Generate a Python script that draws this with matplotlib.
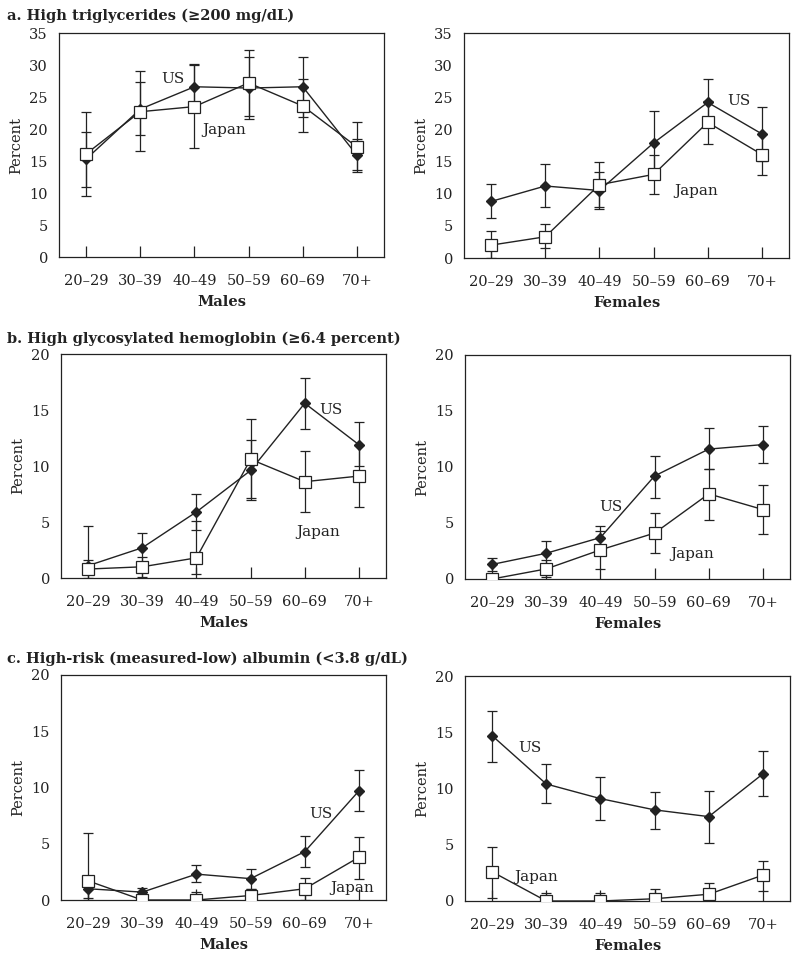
import numpy as np
import matplotlib
matplotlib.use('Agg')
from matplotlib import pyplot as plt

plt.rcParams['font.family'] = ['DejaVu Serif']
plt.rcParams['axes.unicode_minus'] = False

# ---- data ----
ages = ['20–29', '30–39', '40–49', '50–59', '60–69', '70+']

# a. triglycerides, males
tg_m_us = [15.3, 23.1, 26.6, 26.4, 26.6, 15.9]
tg_m_us_lo = [11.0, 19.0, 23.3, 21.5, 21.9, 13.6]
tg_m_us_hi = [19.6, 27.3, 30.0, 31.3, 31.3, 18.5]
tg_m_jp = [16.1, 22.7, 23.5, 27.2, 23.6, 17.2]
tg_m_jp_lo = [9.5, 16.5, 17.1, 22.0, 19.5, 13.3]
tg_m_jp_hi = [22.7, 29.0, 30.2, 32.4, 27.8, 21.1]
# a. triglycerides, females
tg_f_us = [8.8, 11.2, 10.5, 17.9, 24.2, 19.3]
tg_f_us_lo = [6.2, 7.9, 7.7, 13.0, 20.5, 15.1]
tg_f_us_hi = [11.5, 14.6, 13.4, 22.8, 27.9, 23.5]
tg_f_jp = [2.0, 3.3, 11.4, 13.0, 21.1, 16.1]
tg_f_jp_lo = [0.0, 1.5, 8.0, 10.0, 17.7, 12.9]
tg_f_jp_hi = [4.2, 5.3, 14.9, 16.1, 24.5, 19.3]

# b. glycosylated hemoglobin, males
hb_m_us = [1.1, 2.7, 5.9, 9.6, 15.6, 11.9]
hb_m_us_lo = [0.6, 1.4, 4.3, 7.0, 13.3, 10.0]
hb_m_us_hi = [1.6, 4.0, 7.5, 12.3, 17.9, 13.9]
hb_m_jp = [0.8, 1.0, 1.8, 10.6, 8.6, 9.1]
hb_m_jp_lo = [0.0, 0.1, 0.4, 7.1, 5.9, 6.3]
hb_m_jp_hi = [4.6, 1.9, 5.1, 14.2, 11.3, 11.9]
# b. glycosylated hemoglobin, females
hb_f_us = [1.3, 2.3, 3.7, 9.2, 11.6, 12.0]
hb_f_us_lo = [0.7, 1.2, 2.7, 7.2, 9.8, 10.4]
hb_f_us_hi = [1.9, 3.4, 4.7, 11.0, 13.5, 13.7]
hb_f_jp = [0.0, 0.9, 2.6, 4.1, 7.6, 6.2]
hb_f_jp_lo = [0.0, 0.2, 0.9, 2.3, 5.3, 4.0]
hb_f_jp_hi = [0.0, 1.7, 4.3, 5.9, 9.8, 8.4]

# c. albumin, males
al_m_us = [1.0, 0.7, 2.3, 1.9, 4.3, 9.7]
al_m_us_lo = [0.2, 0.2, 1.6, 1.0, 2.9, 7.9]
al_m_us_hi = [1.8, 1.1, 3.1, 2.8, 5.7, 11.6]
al_m_jp = [1.7, 0.0, 0.0, 0.4, 1.0, 3.8]
al_m_jp_lo = [0.0, 0.0, 0.0, 0.0, 0.0, 1.9]
al_m_jp_hi = [6.0, 0.0, 0.7, 1.0, 2.0, 5.6]
# c. albumin, females
al_f_us = [14.7, 10.4, 9.1, 8.1, 7.5, 11.3]
al_f_us_lo = [12.4, 8.7, 7.2, 6.4, 5.2, 9.3]
al_f_us_hi = [16.9, 12.2, 11.0, 9.7, 9.8, 13.3]
al_f_jp = [2.6, 0.0, 0.0, 0.2, 0.6, 2.3]
al_f_jp_lo = [0.3, 0.0, 0.0, 0.0, 0.0, 0.9]
al_f_jp_hi = [4.8, 0.7, 0.7, 1.1, 1.6, 3.6]

titles = ['a. High triglycerides (≥200 mg/dL)',
          'b. High glycosylated hemoglobin (≥6.4 percent)',
          'c. High-risk (measured-low) albumin (<3.8 g/dL)']

panels = [
    # axes box in px (left, top, right, bottom), ymax, xlabel, series, US / Japan label spots
    ((59, 33, 384, 257), 35, 'Males',
     (tg_m_us, tg_m_us_lo, tg_m_us_hi, tg_m_jp, tg_m_jp_lo, tg_m_jp_hi),
     (1.61, 27.8), (2.54, 19.8)),
    ((464, 33, 789, 258), 35, 'Females',
     (tg_f_us, tg_f_us_lo, tg_f_us_hi, tg_f_jp, tg_f_jp_lo, tg_f_jp_hi),
     (4.57, 24.5), (3.78, 10.4)),
    ((61, 354, 386, 578), 20, 'Males',
     (hb_m_us, hb_m_us_lo, hb_m_us_hi, hb_m_jp, hb_m_jp_lo, hb_m_jp_hi),
     (4.48, 15.0), (4.24, 4.1)),
    ((465, 355, 790, 579), 20, 'Females',
     (hb_f_us, hb_f_us_lo, hb_f_us_hi, hb_f_jp, hb_f_jp_lo, hb_f_jp_hi),
     (2.19, 6.4), (3.69, 2.2)),
    ((61, 675, 386, 900), 20, 'Males',
     (al_m_us, al_m_us_lo, al_m_us_hi, al_m_jp, al_m_jp_lo, al_m_jp_hi),
     (4.30, 7.6), (4.87, 1.1)),
    ((465, 676, 790, 901), 20, 'Females',
     (al_f_us, al_f_us_lo, al_f_us_hi, al_f_jp, al_f_jp_lo, al_f_jp_hi),
     (0.70, 13.6), (0.81, 2.1)),
]

W, H = 800, 961
fig = plt.figure(figsize=(W / 100, H / 100), dpi=100)
ink = '#222222'

x = np.arange(len(ages))
for (l, t, r, b), ymax, xlab, ser, us_pos, jp_pos in panels:
    ax = fig.add_axes([l / W, 1 - b / H, (r - l) / W, (b - t) / H])
    us, us_lo, us_hi, jp, jp_lo, jp_hi = [np.array(s) for s in ser]
    ax.errorbar(x, us, yerr=[us - us_lo, us_hi - us], color=ink, lw=1.0,
                elinewidth=0.9, capsize=3.5, capthick=0.9, marker='D',
                markersize=5, markerfacecolor=ink, markeredgecolor=ink, zorder=3)
    ax.errorbar(x, jp, yerr=[jp - jp_lo, jp_hi - jp], color=ink, lw=1.0,
                elinewidth=0.9, capsize=3.5, capthick=0.9, marker='s',
                markersize=8, markerfacecolor='white', markeredgecolor=ink,
                markeredgewidth=0.9, zorder=4)
    ax.text(us_pos[0], us_pos[1], 'US', fontsize=11, color=ink, ha='center', va='center')
    ax.text(jp_pos[0], jp_pos[1], 'Japan', fontsize=11, color=ink, ha='center', va='center')
    ax.set_xlim(-0.5, 5.5)
    ax.set_ylim(0, ymax)
    ax.set_yticks(np.arange(0, ymax + 1, 5))
    ax.set_xticks(x)
    ax.set_xticklabels(ages)
    ax.tick_params(axis='x', direction='in', length=8, width=0.9, color=ink,
                   labelsize=10.5, labelcolor=ink, pad=12)
    ax.tick_params(axis='y', length=0, labelsize=10.5, labelcolor=ink, pad=8)
    for sp in ax.spines.values():
        sp.set_linewidth(0.9)
        sp.set_color(ink)
    ax.set_ylabel('Percent', fontsize=10.5, color=ink, labelpad=4)
    ax.set_xlabel(xlab, fontsize=10.5, fontweight='bold', color=ink, labelpad=5)

for title, yb in zip(titles, [20, 343, 663]):
    fig.text(7 / W, 1 - yb / H, title, fontsize=10.5, fontweight='bold', color=ink,
             ha='left', va='baseline')

plt.savefig('out.png', dpi=100)
